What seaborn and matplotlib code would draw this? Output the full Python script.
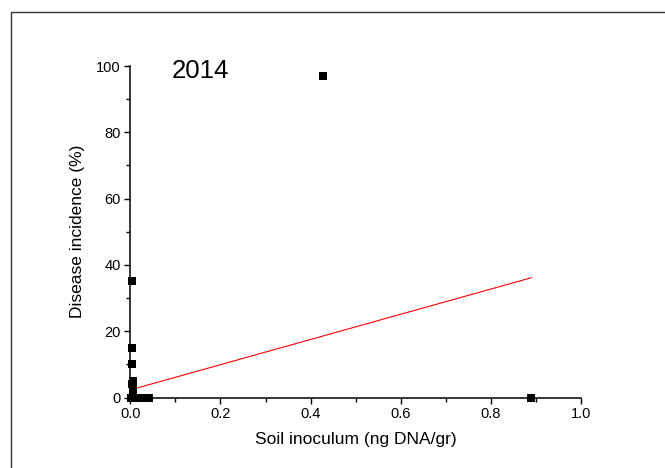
import matplotlib
matplotlib.use("Agg")
import matplotlib.pyplot as plt
from matplotlib.patches import Rectangle
from matplotlib.ticker import MultipleLocator, FormatStrFormatter
import numpy as np
import pandas as pd
import seaborn as sns

# ---- data ----
# points near the origin with non-zero disease incidence
near_x = [0.004, 0.004, 0.003, 0.005, 0.004, 0.006, 0.005]
near_y = [35, 15, 10, 5, 4, 3, 2]
# many (overlapping) samples with zero disease incidence near the origin
zero_x = [0.001, 0.002, 0.002, 0.003, 0.003, 0.004, 0.004, 0.005, 0.005,
          0.006, 0.006, 0.007, 0.007, 0.008, 0.008, 0.009, 0.010, 0.010,
          0.011, 0.012, 0.013, 0.014, 0.015, 0.016, 0.018, 0.020, 0.022,
          0.024, 0.026, 0.028, 0.030, 0.032, 0.035, 0.038, 0.041]
zero_y = [0] * len(zero_x)
# isolated samples
far_x = [0.427, 0.89]
far_y = [97, 0]

year_label = "2014"
x_label = "Soil inoculum (ng DNA/gr)"
y_label = "Disease incidence (%)"

df = pd.DataFrame({
    "inoculum": near_x + zero_x + far_x,
    "incidence": near_y + zero_y + far_y,
})

sns.set_style("ticks")
plt.rcParams["font.family"] = ["Liberation Sans", "DejaVu Sans"]
plt.rcParams["text.color"] = "black"
plt.rcParams["axes.labelcolor"] = "black"
plt.rcParams["xtick.color"] = "black"
plt.rcParams["ytick.color"] = "black"

fig = plt.figure(figsize=(6.65, 4.68), dpi=100)
ax = fig.add_axes([130.3 / 665, 1 - 397.5 / 468, (581 - 130.3) / 665, (397.5 - 66) / 468])

sns.regplot(data=df, x="inoculum", y="incidence", ax=ax, ci=None, truncate=True,
            marker="s",
            scatter_kws=dict(s=34, color="black", alpha=1.0, linewidths=0,
                             clip_on=False, zorder=3),
            line_kws=dict(color="red", lw=0.8, zorder=2))

ax.set_xlim(0, 1.0)
ax.set_ylim(0, 100)
ax.xaxis.set_major_locator(MultipleLocator(0.2))
ax.xaxis.set_minor_locator(MultipleLocator(0.1))
ax.yaxis.set_major_locator(MultipleLocator(20))
ax.yaxis.set_minor_locator(MultipleLocator(10))
ax.xaxis.set_major_formatter(FormatStrFormatter("%.1f"))
ax.yaxis.set_major_formatter(FormatStrFormatter("%d"))

sns.despine(ax=ax)
for sp in ("left", "bottom"):
    ax.spines[sp].set_linewidth(1.1)
    ax.spines[sp].set_color("black")

ax.tick_params(which="major", direction="out", length=4.3, width=1.0,
               labelsize=10.5, pad=2.5, colors="black")
ax.tick_params(which="minor", direction="out", length=2.6, width=1.0, colors="black")

ax.set_xlabel(x_label, fontsize=12.5, labelpad=8, color="black")
ax.set_ylabel(y_label, fontsize=12.5, labelpad=8, color="black")

ax.text(0.092, 96.4, year_label, fontsize=18.5, ha="left", va="baseline", color="black")

fig.add_artist(Rectangle((11 / 665, -0.1), 1.2, 1 - 11.5 / 468 + 0.1,
                         transform=fig.transFigure, fill=False,
                         edgecolor="#333333", lw=1.0))

fig.savefig("out.png", dpi=100)
